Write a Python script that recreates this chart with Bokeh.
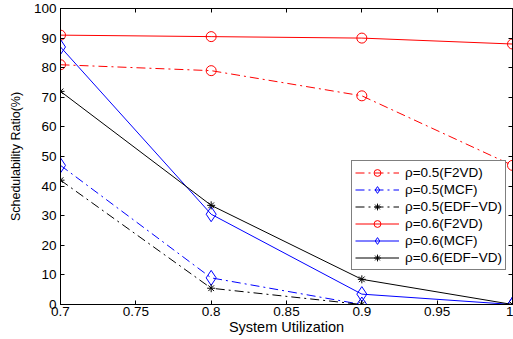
from bokeh.plotting import figure
from bokeh.models import Range1d, FixedTicker, LinearAxis, Legend, CustomJSTickFormatter
from bokeh.embed import file_html
from bokeh.resources import INLINE

utilization = [0.7, 0.8, 0.9, 1.0]
r05_f2vd = [81, 79, 70.5, 47]
r05_mcf = [47, 9, 0, 0]
r05_edfvd = [42, 5.5, 0, 0]
r06_f2vd = [91, 90.5, 90, 88]
r06_mcf = [87, 30.5, 3.5, 0]
r06_edfvd = [72, 33.5, 8.5, 0]

x_ticks = [0.7, 0.75, 0.8, 0.85, 0.9, 0.95, 1.0]
x_tick_labels = ["0.7", "0.75", "0.8", "0.85", "0.9", "0.95", "1"]
y_ticks = [0, 10, 20, 30, 40, 50, 60, 70, 80, 90, 100]

FONT = "Liberation Sans"

p = figure(width=513, height=339, output_backend="svg", toolbar_location=None,
           x_range=Range1d(0.7, 1.0), y_range=Range1d(0, 100),
           min_border_left=60, min_border_right=1, min_border_top=8, min_border_bottom=35)
p.xgrid.visible = False
p.ygrid.visible = False
p.outline_line_color = "black"
p.outline_line_width = 1
p.background_fill_color = "white"

for ax in [p.xaxis[0], p.yaxis[0]]:
    ax.major_tick_in = 4
    ax.major_tick_out = 0
    ax.minor_tick_in = 0
    ax.minor_tick_out = 0
    ax.axis_line_color = "black"
    ax.major_tick_line_color = "black"
    ax.major_label_text_font = FONT
    ax.major_label_text_font_size = "13.5px"
    ax.major_label_text_color = "black"
    ax.axis_label_text_font = FONT
    ax.axis_label_text_font_style = "normal"
    ax.axis_label_text_color = "black"

p.xaxis[0].ticker = FixedTicker(ticks=x_ticks)
p.xaxis[0].major_label_overrides = {t: l for t, l in zip(x_ticks, x_tick_labels)}
p.xaxis[0].axis_label = "System Utilization"
p.xaxis[0].axis_label_text_font_size = "14.5px"
p.xaxis[0].major_label_standoff = 2
p.xaxis[0].axis_label_standoff = 0
p.yaxis[0].ticker = FixedTicker(ticks=y_ticks)
p.yaxis[0].axis_label = "Schedulability Ratio(%)"
p.yaxis[0].axis_label_text_font_size = "12.5px"
p.yaxis[0].major_label_standoff = 4
p.yaxis[0].axis_label_standoff = 8

blank = CustomJSTickFormatter(code="return ''")
top_ax = LinearAxis(ticker=FixedTicker(ticks=x_ticks), formatter=blank,
                    major_tick_in=4, major_tick_out=0, minor_tick_in=0, minor_tick_out=0,
                    major_label_standoff=0, axis_line_color="black")
right_ax = LinearAxis(ticker=FixedTicker(ticks=y_ticks), formatter=blank,
                      major_tick_in=4, major_tick_out=0, minor_tick_in=0, minor_tick_out=0,
                      major_label_standoff=0, axis_line_color="black")
p.add_layout(top_ax, "above")
p.add_layout(right_ax, "right")

dashdot = "9 4 2 4"
series = [
    ("ρ=0.5(F2VD)", r05_f2vd, "#ff0000", dashdot, "circle", 10),
    ("ρ=0.5(MCF)", r05_mcf, "#0000ff", dashdot, "diamond", 15),
    ("ρ=0.5(EDF−VD)", r05_edfvd, "black", dashdot, "asterisk", 8),
    ("ρ=0.6(F2VD)", r06_f2vd, "#ff0000", "solid", "circle", 10),
    ("ρ=0.6(MCF)", r06_mcf, "#0000ff", "solid", "diamond", 15),
    ("ρ=0.6(EDF−VD)", r06_edfvd, "black", "solid", "asterisk", 8),
]

items = []
for label, ys, color, dash, marker, size in series:
    l = p.line(utilization, ys, line_color=color, line_dash=dash, line_width=1)
    m = p.scatter(utilization, ys, marker=marker, size=size, line_color=color,
                  fill_color=None, line_width=1)
    items.append((label, [l, m]))

legend = Legend(items=items, location=(291, 34), border_line_color="black",
                border_line_width=1, background_fill_color="white", background_fill_alpha=1,
                label_text_font=FONT, label_text_font_size="13.5px", label_text_color="black",
                glyph_width=44, glyph_height=17, label_height=17, spacing=0,
                padding=3, margin=0, label_standoff=6)
p.add_layout(legend, "center")

open("out.html", "w").write(file_html(p, INLINE))
